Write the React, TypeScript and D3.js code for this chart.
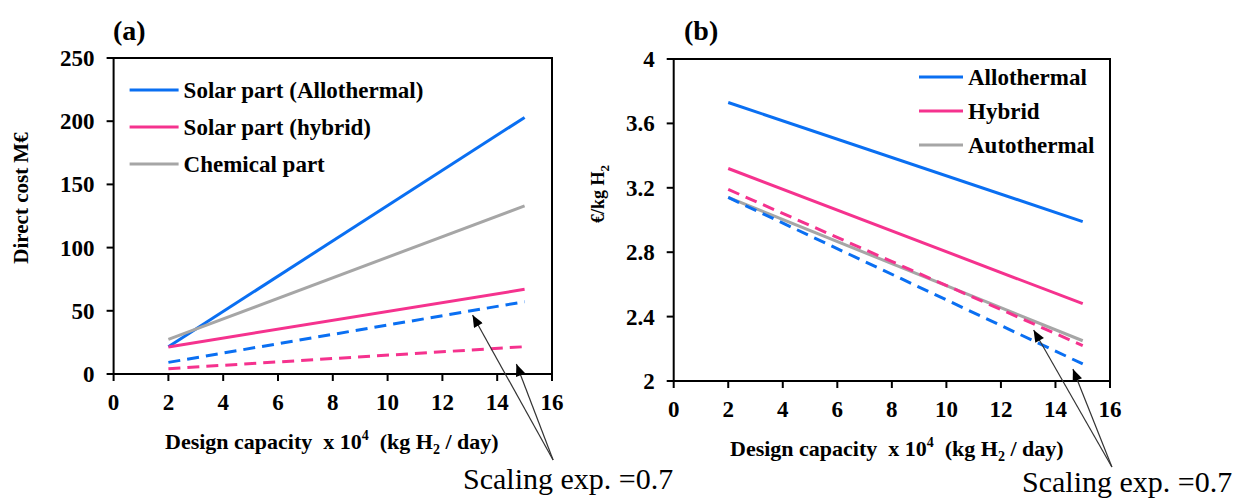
import React from "react";
import * as d3 from "d3";

// capacity x 10^4 kg H2/day
const capacity = [2, 15];

// (a) direct cost, M€
const costSolarAllo = [21.6, 203];
const costSolarHybrid = [21.4, 67];
const costChemical = [27.4, 133];
const costAlloScaled = [9.2, 57.2];
const costHybridScaled = [4.2, 21.6];

// (b) €/kg H2
const lcohAllo = [3.73, 2.99];
const lcohHybrid = [3.32, 2.48];
const lcohAuto = [3.14, 2.25];
const lcohAlloScaled = [3.14, 2.106];
const lcohHybridScaled = [3.19, 2.22];

const xTicks = [0, 2, 4, 6, 8, 10, 12, 14, 16];
const costTicks = [0, 50, 100, 150, 200, 250];
const lcohTicks = [2, 2.4, 2.8, 3.2, 3.6, 4];

const legendA = ["Solar part (Allothermal)", "Solar part (hybrid)", "Chemical part"];
const legendB = ["Allothermal", "Hybrid", "Autothermal"];

// arrow tips in data coords, tail where they meet
const arrowsA = { tips: [[13.1, 46.7], [14.7, 7.9]], tail: [16.04, -68] };
const arrowsB = { tips: [[13.2, 2.317], [14.64, 2.075]], tail: [16.07, 1.466] };

const BLUE = "#0A6FF2";
const PINK = "#F5328E";
const GRAY = "#A6A6A6";
const FONT = "'Liberation Serif', 'Times New Roman', serif";

type Series = { values: number[]; color: string; dashed?: boolean };

function Panel({ id, box, yDomain, yTicks, series, legend, legendPos, arrows, title, yLabel, xLabelPos, note }: any) {
  const x = d3.scaleLinear().domain([0, 16]).range([box.left, box.right]);
  const y = d3.scaleLinear().domain(yDomain).range([box.bottom, box.top]);
  const line = d3
    .line<[number, number]>()
    .x((d) => x(d[0]))
    .y((d) => y(d[1]));

  return (
    <g fontFamily={FONT}>
      <text x={title.x} y={title.y} fontSize={28} fontWeight="bold">{title.text}</text>

      {series.map((s: Series, i: number) => (
        <path
          key={i}
          d={line(capacity.map((c, j) => [c, s.values[j]]) as [number, number][]) || ""}
          fill="none"
          stroke={s.color}
          strokeWidth={3}
          strokeDasharray={s.dashed ? "12,7" : undefined}
        />
      ))}

      <rect x={box.left} y={box.top} width={box.right - box.left} height={box.bottom - box.top} fill="none" stroke="#000" strokeWidth={2} />

      {xTicks.map((t) => (
        <g key={t}>
          <line x1={x(t)} x2={x(t)} y1={box.bottom} y2={box.bottom + 7} stroke="#000" strokeWidth={2} />
          <text x={x(t)} y={box.bottom + 36} fontSize={23} fontWeight="bold" textAnchor="middle">{t}</text>
        </g>
      ))}
      {yTicks.map((t: number) => (
        <g key={t}>
          <line x1={box.left - 7} x2={box.left} y1={y(t)} y2={y(t)} stroke="#000" strokeWidth={2} />
          <text x={box.left - 19} y={y(t) + 8} fontSize={23} fontWeight="bold" textAnchor="end">{t}</text>
        </g>
      ))}

      {legend.map((name: string, i: number) => {
        const cy = legendPos.y + i * legendPos.dy;
        return (
          <g key={name}>
            <line x1={legendPos.x1} x2={legendPos.x2} y1={cy} y2={cy} stroke={series[i].color} strokeWidth={3} />
            <text x={legendPos.x2 + 5} y={cy + 8} fontSize={23} fontWeight="bold">{name}</text>
          </g>
        );
      })}

      <text x={xLabelPos.x} y={xLabelPos.y} fontSize={22} fontWeight="bold" style={{ whiteSpace: "pre" }}>
        {"Design capacity  x 10"}
        <tspan fontSize={14} dy={-9}>4</tspan>
        <tspan dy={9}>{"  (kg H"}</tspan>
        <tspan fontSize={14} dy={5}>2</tspan>
        <tspan dy={-5}>{" / day)"}</tspan>
      </text>
      <g transform={`translate(${yLabel.x},${yLabel.y}) rotate(-90)`}>
        <text textAnchor="middle" fontSize={yLabel.size} fontWeight="bold">
          {yLabel.text}
          {yLabel.sub && <tspan fontSize={13} dy={5}>{yLabel.sub}</tspan>}
        </text>
      </g>

      <defs>
        <marker id={`ah${id}`} viewBox="0 0 12 10" refX={12} refY={5} markerWidth={13} markerHeight={10} markerUnits="userSpaceOnUse" orient="auto">
          <path d="M0,0 L12,5 L0,10 Z" fill="#000" />
        </marker>
      </defs>
      {arrows.tips.map((tp: number[], i: number) => (
        <line
          key={i}
          x1={x(arrows.tail[0])}
          y1={y(arrows.tail[1])}
          x2={x(tp[0])}
          y2={y(tp[1])}
          stroke="#333"
          strokeWidth={1.2}
          markerEnd={`url(#ah${id})`}
        />
      ))}
      <text x={note.x} y={note.y} fontSize={30}>Scaling exp. =0.7</text>
    </g>
  );
}

export default function App() {
  const seriesA: Series[] = [
    { values: costSolarAllo, color: BLUE },
    { values: costSolarHybrid, color: PINK },
    { values: costChemical, color: GRAY },
    { values: costAlloScaled, color: BLUE, dashed: true },
    { values: costHybridScaled, color: PINK, dashed: true },
  ];
  const seriesB: Series[] = [
    { values: lcohAllo, color: BLUE },
    { values: lcohHybrid, color: PINK },
    { values: lcohAuto, color: GRAY },
    { values: lcohAlloScaled, color: BLUE, dashed: true },
    { values: lcohHybridScaled, color: PINK, dashed: true },
  ];

  return (
    <svg width={1240} height={499} style={{ position: "absolute", left: 0, top: 0, background: "#fff" }}>
      <Panel
        id="a"
        box={{ left: 113.6, right: 552, top: 58, bottom: 374 }}
        yDomain={[0, 250]}
        yTicks={costTicks}
        series={seriesA}
        legend={legendA}
        legendPos={{ x1: 129.6, x2: 178.6, y: 90, dy: 37 }}
        arrows={arrowsA}
        title={{ text: "(a)", x: 113, y: 40 }}
        yLabel={{ text: "Direct cost M€", x: 28, y: 198, size: 21 }}
        xLabelPos={{ x: 165, y: 449 }}
        note={{ x: 463, y: 489 }}
      />
      <Panel
        id="b"
        box={{ left: 673.7, right: 1110, top: 59, bottom: 381 }}
        yDomain={[2, 4]}
        yTicks={lcohTicks}
        series={seriesB}
        legend={legendB}
        legendPos={{ x1: 919, x2: 963, y: 77, dy: 34 }}
        arrows={arrowsB}
        title={{ text: "(b)", x: 684, y: 40 }}
        yLabel={{ text: "€/kg H", sub: "2", x: 604, y: 194, size: 18 }}
        xLabelPos={{ x: 730, y: 456 }}
        note={{ x: 1022, y: 492 }}
      />
    </svg>
  );
}
